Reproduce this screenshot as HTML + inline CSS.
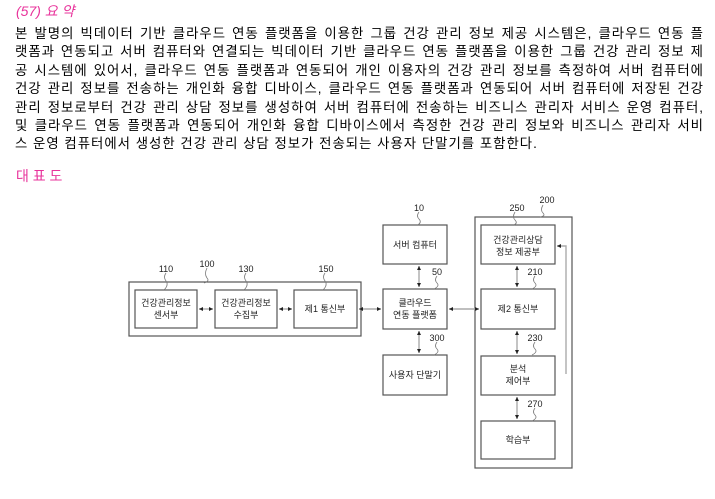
<!DOCTYPE html>
<html><head><meta charset="utf-8"><style>
body{margin:0;width:715px;height:499px;background:#fff;position:relative;overflow:hidden;font-family:"Liberation Sans","Noto Sans CJK KR","NanumGothic",sans-serif;}
.h{position:absolute;left:16px;color:#e8339b;font-size:14px;}
.p{position:absolute;left:15px;top:25px;width:689px;font-size:13.4px;line-height:18.4px;color:#000;letter-spacing:1px;}
.p div{text-align:justify;text-align-last:justify;white-space:nowrap;}
.p div.l{text-align-last:left;}
svg{position:absolute;left:0;top:0;}
svg text{font-family:"Liberation Sans","Noto Sans CJK KR","NanumGothic",sans-serif;font-size:9px;text-anchor:middle;fill:#222;}
</style></head><body>
<div class="h" style="top:1px;font-style:italic;">(57) 요 약</div>
<div class="p">
<div>본 발명의 빅데이터 기반 클라우드 연동 플랫폼을 이용한 그룹 건강 관리 정보 제공 시스템은, 클라우드 연동 플</div>
<div>랫폼과 연동되고 서버 컴퓨터와 연결되는 빅데이터 기반 클라우드 연동 플랫폼을 이용한 그룹 건강 관리 정보 제</div>
<div>공 시스템에 있어서, 클라우드 연동 플랫폼과 연동되어 개인 이용자의 건강 관리 정보를 측정하여 서버 컴퓨터에</div>
<div>건강 관리 정보를 전송하는 개인화 융합 디바이스, 클라우드 연동 플랫폼과 연동되어 서버 컴퓨터에 저장된 건강</div>
<div>관리 정보로부터 건강 관리 상담 정보를 생성하여 서버 컴퓨터에 전송하는 비즈니스 관리자 서비스 운영 컴퓨터,</div>
<div>및 클라우드 연동 플랫폼과 연동되어 개인화 융합 디바이스에서 측정한 건강 관리 정보와 비즈니스 관리자 서비</div>
<div class="l">스 운영 컴퓨터에서 생성한 건강 관리 상담 정보가 전송되는 사용자 단말기를 포함한다.</div>
</div>
<div class="h" style="top:166px;">대 표 도</div>
<svg width="715" height="499" viewBox="0 0 715 499">
<defs><marker id="a" markerUnits="userSpaceOnUse" markerWidth="5" markerHeight="5" refX="4" refY="2.5" orient="auto-start-reverse"><path d="M0,0.5 L4,2.5 L0,4.5z" fill="#222"/></marker></defs>
<g fill="none" stroke="#555" stroke-width="1.2">
<rect x="129" y="282" width="232" height="54"/>
<rect x="135" y="290" width="62" height="38"/>
<rect x="215" y="290" width="62" height="38"/>
<rect x="294" y="290" width="63" height="38"/>
<rect x="383" y="225" width="64" height="39"/>
<rect x="383" y="289" width="64" height="40"/>
<rect x="383" y="355" width="64" height="40"/>
<rect x="475" y="217" width="97" height="251"/>
<rect x="481" y="225" width="74" height="39"/>
<rect x="481" y="289" width="74" height="40"/>
<rect x="481" y="356" width="74" height="39"/>
<rect x="481" y="421" width="74" height="38"/>
</g>
<g stroke="#aaa" stroke-width="1.4" fill="none">
<line x1="199" y1="309" x2="213" y2="309" marker-start="url(#a)" marker-end="url(#a)"/>
<line x1="279" y1="309" x2="292" y2="309" marker-start="url(#a)" marker-end="url(#a)"/>
<line x1="359" y1="309" x2="381" y2="309" marker-start="url(#a)" marker-end="url(#a)"/>
<line x1="449" y1="309" x2="479" y2="309" marker-start="url(#a)" marker-end="url(#a)"/>
<line x1="419" y1="266" x2="419" y2="287" marker-start="url(#a)" marker-end="url(#a)"/>
<line x1="419" y1="331" x2="419" y2="353" marker-start="url(#a)" marker-end="url(#a)"/>
<line x1="517" y1="266" x2="517" y2="287" marker-start="url(#a)" marker-end="url(#a)"/>
<line x1="517" y1="331" x2="517" y2="354" marker-start="url(#a)" marker-end="url(#a)"/>
<line x1="517" y1="397" x2="517" y2="419" marker-start="url(#a)" marker-end="url(#a)"/>
<polyline points="566,374 566,246 557,246" marker-end="url(#a)"/>
</g>
<g fill="none" stroke="#777" stroke-width="0.8">
<path d="M166,273 q-3,4 0,8 q3,4 -2,9"/><path d="M207,268 q-3,6 0,10 q3,3 -3,5"/>
<path d="M246,273 q-3,4 0,8 q3,4 -2,9"/><path d="M325,273 q-3,4 0,8 q3,4 -2,9"/>
<path d="M419,212 q-3,4 0,7 q3,3 -1,6"/><path d="M437,276 q-3,4 0,7 q3,3 -3,6"/>
<path d="M437,342 q-3,4 0,7 q3,3 -3,6"/><path d="M515,212 q-3,5 0,8 q3,3 -1,5"/>
<path d="M543,205 q-3,5 0,8 q3,3 -3,4"/><path d="M535,276 q-3,4 0,7 q3,3 -3,6"/>
<path d="M535,342 q-3,4 0,7 q3,3 -3,6"/><path d="M535,408 q-3,4 0,7 q3,3 -3,6"/>
</g>
<g>
<text x="166" y="272">110</text><text x="207" y="267">100</text><text x="246" y="272">130</text><text x="326" y="272">150</text>
<text x="419" y="211">10</text><text x="437" y="275">50</text><text x="437" y="341">300</text>
<text x="517" y="211">250</text><text x="547" y="203">200</text><text x="535" y="275">210</text><text x="535" y="341">230</text><text x="535" y="407">270</text>
<text x="166" y="306">건강관리정보</text><text x="166" y="318">센서부</text>
<text x="246" y="306">건강관리정보</text><text x="246" y="318">수집부</text>
<text x="325" y="312">제1 통신부</text>
<text x="415" y="248">서버 컴퓨터</text>
<text x="415" y="306">클라우드</text><text x="415" y="318">연동 플랫폼</text>
<text x="415" y="378">사용자 단말기</text>
<text x="518" y="243">건강관리상담</text><text x="518" y="255">정보 제공부</text>
<text x="518" y="312">제2 통신부</text>
<text x="518" y="372">분석</text><text x="518" y="384">제어부</text>
<text x="518" y="443">학습부</text>
</g>
</svg>
</body></html>
